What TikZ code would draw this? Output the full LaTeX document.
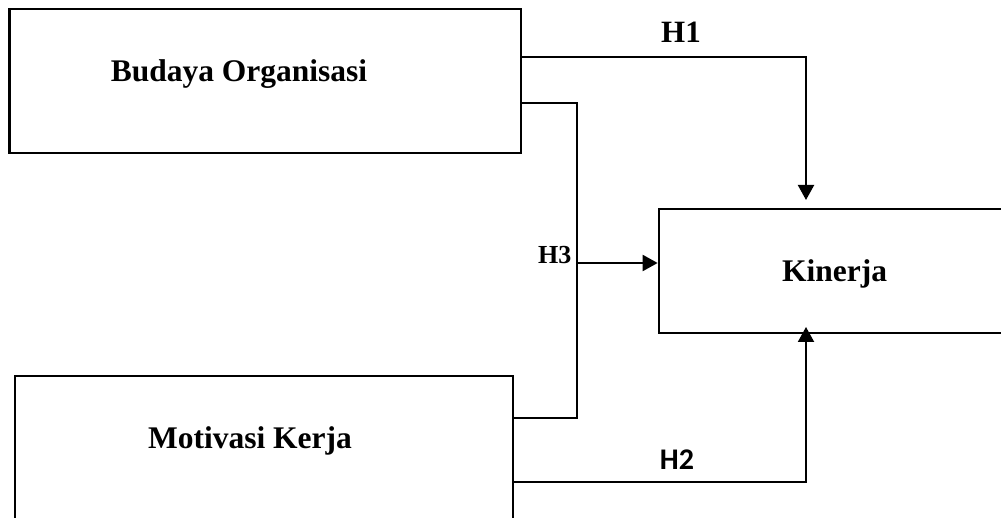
\documentclass[tikz,border=0pt]{standalone}
\usepackage{fontspec}
\setmainfont{Liberation Serif}
\newfontfamily\calib{Carlito}
\usetikzlibrary{arrows.meta}
\begin{document}
\begin{tikzpicture}[x=1pt,y=-1pt,
  box/.style={draw, line width=2.7pt, rectangle, inner sep=0pt},
  conn/.style={line width=2.1pt},
  arr/.style={conn, -{Triangle[length=15pt,width=16pt]}},
  lbl/.style={anchor=base, inner sep=0pt, font=\fontsize{31.5}{36}\selectfont\bfseries},
  hlbl/.style={anchor=base, inner sep=0pt, font=\fontsize{31}{36}\selectfont\bfseries}]
\useasboundingbox (0,0) rectangle (1001,518);
\clip (0,0) rectangle (1001,518);

% variable boxes
\node[box, minimum width=511.5pt, minimum height=144pt] (budaya) at (265.25,81) {};
\node[box, minimum width=351pt, minimum height=124pt] (kinerja) at (834.5,271) {};
\node[box, minimum width=498pt, minimum height=184pt] (motivasi) at (264,468) {};

\node[lbl] (tbudaya) at (239,82) {Budaya Organisasi};
\node[lbl] (tkinerja) at (834.5,282) {Kinerja};
\node[lbl] (tmotivasi) at (250,448) {Motivasi Kerja};

% bend and tip points
\coordinate (h1tip) at (806,200);
\coordinate (h2tip) at (806,327);
\coordinate (h3bend) at (577,418);
\coordinate (h3mid) at (577,263);

% H1
\draw[arr] ([yshift=24pt]budaya.east) -| (h1tip);
\node[hlbl] (h1) at (681,43) {H1};

% H2
\draw[arr] ([yshift=-14pt]motivasi.east) -| (h2tip);
\node[hlbl, font=\calib\fontsize{30}{34}\selectfont\bfseries] (h2) at (677,469) {H2};

% H3
\draw[conn] ([yshift=-22pt]budaya.east) -| (h3bend) -- (h3bend -| motivasi.east);
\draw[arr] (h3mid) -- (h3mid -| kinerja.west);
\node[anchor=base east, inner sep=0pt, font=\fontsize{26}{30}\selectfont\bfseries] (h3) at (571.5,264) {H3};
\end{tikzpicture}
\end{document}
